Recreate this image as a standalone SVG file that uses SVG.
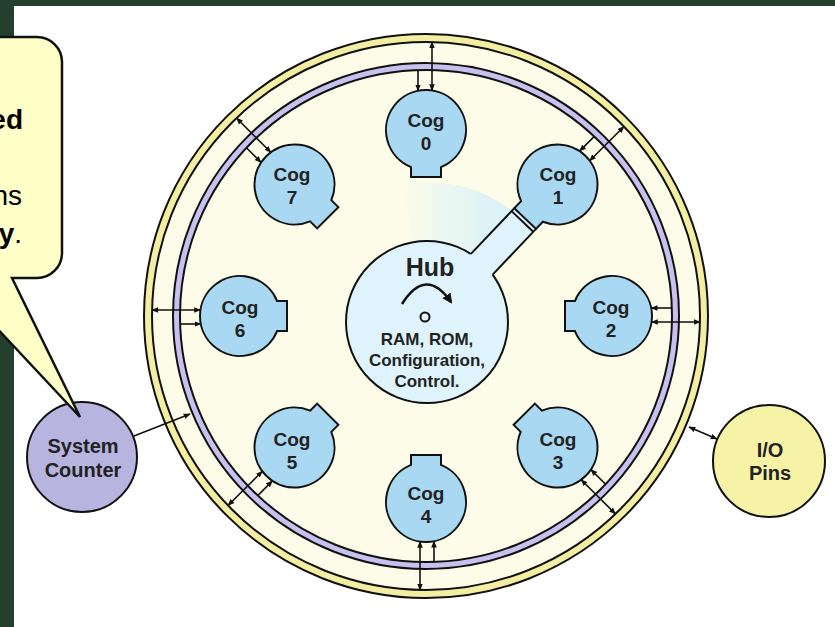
<svg xmlns="http://www.w3.org/2000/svg" width="835" height="627" viewBox="0 0 835 627">
<style>
text{font-family:"Liberation Sans",Arial,sans-serif;font-weight:bold;fill:#222;text-anchor:middle}
.cog path{fill:#a9d8f2;stroke:#111;stroke-width:2}
.cog text{font-size:19px}
.ring{stroke:#111;stroke-width:2}
.conn line,.conn path{stroke:#111;stroke-width:1.6;fill:none}
</style>
<defs>
<marker id="ah" viewBox="0 0 10 10" refX="9" refY="5" markerWidth="7" markerHeight="7" markerUnits="userSpaceOnUse" orient="auto-start-reverse"><path d="M0 1 L10 5 L0 9 Z" fill="#111"/></marker>
<marker id="ahBig" viewBox="0 0 10 10" refX="8" refY="5" markerWidth="10" markerHeight="10" markerUnits="userSpaceOnUse" orient="auto"><path d="M0 0 L10 5 L0 10 Z" fill="#111"/></marker>
<linearGradient id="wedge" x1="400" y1="0" x2="490" y2="0" gradientUnits="userSpaceOnUse">
<stop offset="0" stop-color="#dff4f8" stop-opacity="0"/>
<stop offset="1" stop-color="#dcf3f8" stop-opacity="1"/>
</linearGradient>
</defs>

<g id="background">
<rect x="0" y="0" width="835" height="627" fill="#243f2d"/>
<rect x="14" y="6" width="821" height="621" fill="#ffffff"/>
</g>

<g id="ring">
<circle class="ring" cx="426" cy="316" r="282" fill="#f3eea2"/>
<circle class="ring" cx="426" cy="316" r="274" fill="#fcfce8"/>
<circle class="ring" cx="426" cy="316" r="253" fill="#c6c1ef"/>
<circle class="ring" cx="426" cy="316" r="246" fill="#fcfce8"/>
<path d="M427 322 L402.7 184.1 A140 140 0 0 1 522.5 219.6 Z" fill="url(#wedge)"/>
</g>

<g id="connectors" class="conn">
<g transform="rotate(0 426 316)"><line x1="418" y1="70" x2="418" y2="90.8" marker-end="url(#ah)"/><line x1="432" y1="42" x2="432" y2="90.5" marker-start="url(#ah)" marker-end="url(#ah)"/></g>
<g transform="rotate(45 426 316)"><line x1="418" y1="70" x2="418" y2="90.8" marker-end="url(#ah)"/><line x1="432" y1="42" x2="432" y2="90.5" marker-start="url(#ah)" marker-end="url(#ah)"/></g>
<g transform="rotate(90 426 316)"><line x1="418" y1="70" x2="418" y2="90.8" marker-end="url(#ah)"/><line x1="432" y1="42" x2="432" y2="90.5" marker-start="url(#ah)" marker-end="url(#ah)"/></g>
<g transform="rotate(135 426 316)"><line x1="418" y1="70" x2="418" y2="90.8" marker-end="url(#ah)"/><line x1="432" y1="42" x2="432" y2="90.5" marker-start="url(#ah)" marker-end="url(#ah)"/></g>
<g transform="rotate(180 426 316)"><line x1="418" y1="70" x2="418" y2="90.8" marker-end="url(#ah)"/><line x1="432" y1="42" x2="432" y2="90.5" marker-start="url(#ah)" marker-end="url(#ah)"/></g>
<g transform="rotate(225 426 316)"><line x1="418" y1="70" x2="418" y2="90.8" marker-end="url(#ah)"/><line x1="432" y1="42" x2="432" y2="90.5" marker-start="url(#ah)" marker-end="url(#ah)"/></g>
<g transform="rotate(270 426 316)"><line x1="418" y1="70" x2="418" y2="90.8" marker-end="url(#ah)"/><line x1="432" y1="42" x2="432" y2="90.5" marker-start="url(#ah)" marker-end="url(#ah)"/></g>
<g transform="rotate(315 426 316)"><line x1="418" y1="70" x2="418" y2="90.8" marker-end="url(#ah)"/><line x1="432" y1="42" x2="432" y2="90.5" marker-start="url(#ah)" marker-end="url(#ah)"/></g>
<line x1="134" y1="436" x2="190" y2="414" marker-end="url(#ah)"/>
<line x1="689" y1="427" x2="717" y2="439" marker-start="url(#ah)" marker-end="url(#ah)"/>
</g>

<g id="hub">
<circle cx="427" cy="322" r="81" fill="#def3fb" stroke="#111" stroke-width="2"/>
<g transform="translate(427 322) rotate(-46.5)">
<rect x="70" y="-15" width="72.6" height="30" fill="#def3fb"/>
<line x1="79.6" y1="-15" x2="142.6" y2="-15" stroke="#111" stroke-width="2"/>
<line x1="79.6" y1="15" x2="142.6" y2="15" stroke="#111" stroke-width="2"/>
<line x1="138.6" y1="-15" x2="138.6" y2="15" stroke="#111" stroke-width="2"/>
</g>
<text x="430" y="276" font-size="25">Hub</text>
<path d="M402 304 Q426 266 451 302" fill="none" stroke="#111" stroke-width="2.5" marker-end="url(#ahBig)"/>
<circle cx="425" cy="317" r="4.5" fill="#eef8fb" stroke="#111" stroke-width="2"/>
<text x="427" y="345" font-size="17">RAM, ROM,</text>
<text x="427" y="366" font-size="17">Configuration,</text>
<text x="427" y="387" font-size="17">Control.</text>
</g>

<g id="cog0" class="cog"><path transform="translate(426 130) rotate(0)" d="M15 37.08 L15 47 L-15 47 L-15 37.08 A40 40 0 1 1 15 37.08 Z"/><text x="426" y="127">Cog</text><text x="426" y="150">0</text></g>
<g id="cog1" class="cog"><path transform="translate(557.5 184.5) rotate(43.5)" d="M15 37.08 L15 47 L-15 47 L-15 37.08 A40 40 0 1 1 15 37.08 Z"/><text x="558" y="181">Cog</text><text x="558" y="204">1</text></g>
<g id="cog2" class="cog"><path transform="translate(612 316) rotate(90)" d="M15 37.08 L15 47 L-15 47 L-15 37.08 A40 40 0 1 1 15 37.08 Z"/><text x="611" y="314">Cog</text><text x="611" y="337">2</text></g>
<g id="cog3" class="cog"><path transform="translate(557.5 447.5) rotate(135)" d="M15 37.08 L15 47 L-15 47 L-15 37.08 A40 40 0 1 1 15 37.08 Z"/><text x="558" y="446">Cog</text><text x="558" y="469">3</text></g>
<g id="cog4" class="cog"><path transform="translate(426 502) rotate(180)" d="M15 37.08 L15 47 L-15 47 L-15 37.08 A40 40 0 1 1 15 37.08 Z"/><text x="426" y="500">Cog</text><text x="426" y="523">4</text></g>
<g id="cog5" class="cog"><path transform="translate(294.5 447.5) rotate(225)" d="M15 37.08 L15 47 L-15 47 L-15 37.08 A40 40 0 1 1 15 37.08 Z"/><text x="292" y="446">Cog</text><text x="292" y="469">5</text></g>
<g id="cog6" class="cog"><path transform="translate(240 316) rotate(270)" d="M15 37.08 L15 47 L-15 47 L-15 37.08 A40 40 0 1 1 15 37.08 Z"/><text x="240" y="314">Cog</text><text x="240" y="337">6</text></g>
<g id="cog7" class="cog"><path transform="translate(294.5 184.5) rotate(315)" d="M15 37.08 L15 47 L-15 47 L-15 37.08 A40 40 0 1 1 15 37.08 Z"/><text x="292" y="181">Cog</text><text x="292" y="204">7</text></g>

<g id="system-counter">
<circle cx="82" cy="457" r="55" fill="#b8b4e0" stroke="#111" stroke-width="2"/>
<text x="83" y="453" font-size="20">System</text>
<text x="83" y="477" font-size="20">Counter</text>
</g>

<g id="io-pins">
<circle cx="769" cy="461" r="56" fill="#f7f3a6" stroke="#111" stroke-width="2"/>
<text x="770" y="457" font-size="20">I/O</text>
<text x="770" y="480" font-size="20">Pins</text>
</g>

<g id="callout">
<path d="M-80 37 H37 A25 25 0 0 1 62 62 V253 A25 25 0 0 1 37 278 H12 L80 417 L-50 278 H-80 Z" fill="#ffffc8" stroke="#111" stroke-width="2.5" stroke-linejoin="miter"/>
<g style="text-anchor:end;font-size:28px">
<text x="23" y="129" style="text-anchor:end;fill:#000">ed</text>
<text x="22" y="205" style="text-anchor:end;font-weight:normal;fill:#000">ns</text>
<text x="22" y="243" style="text-anchor:end;fill:#000">y<tspan font-weight="normal">.</tspan></text>
</g>
</g>
</svg>
